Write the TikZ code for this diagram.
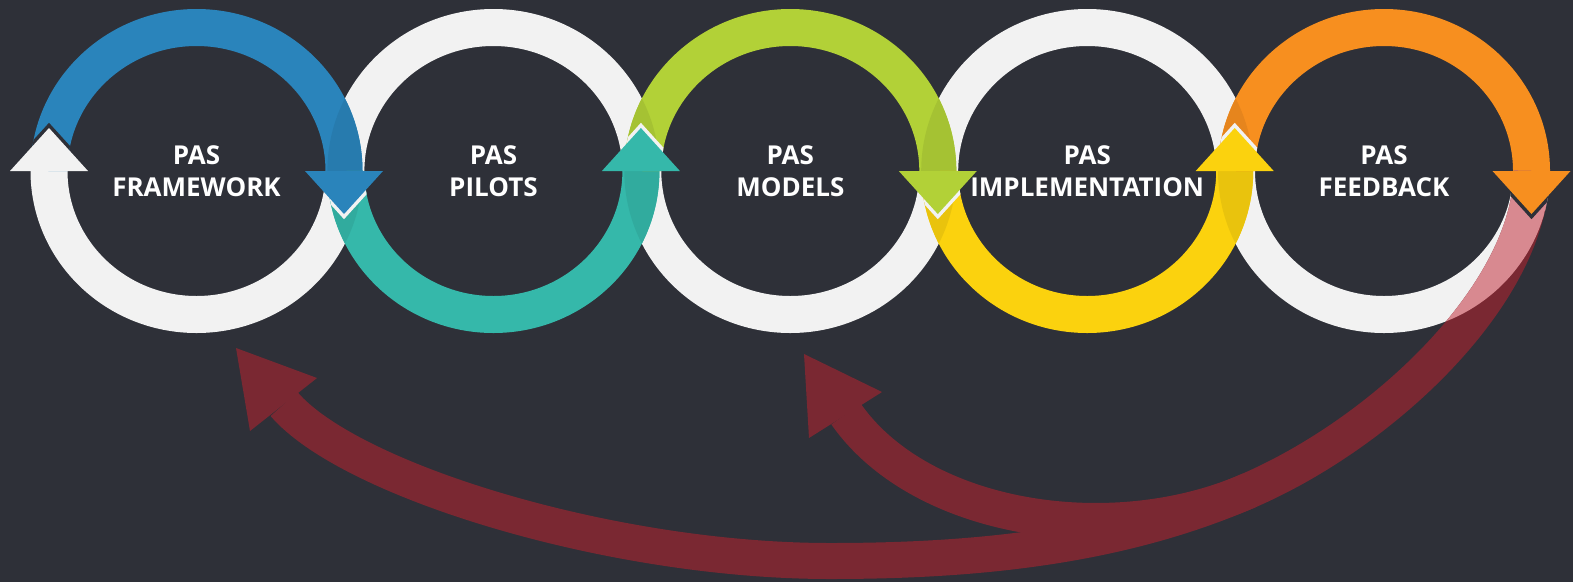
\documentclass[tikz,border=0pt]{standalone}
\usepackage{fontspec}
\setmainfont{Open Sans}
\usetikzlibrary{calc}
\usetikzlibrary{positioning}

\definecolor{bgdark}{RGB}{46,48,56}
\definecolor{ringwhite}{RGB}{242,242,242}
\definecolor{pasblue}{RGB}{42,132,187}
\definecolor{pasteal}{RGB}{53,184,170}
\definecolor{pasgreen}{RGB}{178,209,55}
\definecolor{pasyellow}{RGB}{251,210,14}
\definecolor{pasorange}{RGB}{247,143,31}
\definecolor{backred}{RGB}{122,40,50}
\definecolor{backpink}{RGB}{216,137,144}

\newcommand{\ringrx}{147.5}
\newcommand{\ringry}{143.5}
% closed band of one ring, for clipping
\newcommand{\ringarea}[1]{(#1) ++(166,0)
  arc[start angle=0, end angle=360, x radius=166, y radius=162]
  (#1) ++(129,0)
  arc[start angle=360, end angle=0, x radius=129, y radius=125]}

\begin{document}
\begin{tikzpicture}[
    x=1pt, y=-1pt,
    band/.style = {line width=37pt},
    back/.style = {line width=36pt},
    tipgap/.style = {line width=7pt, line join=miter},
    caption/.style = {
      text=white, align=center, inner sep=0pt,
      font=\fontsize{26}{32}\selectfont\bfseries,
    },
  ]

  \fill[bgdark] (0,0) rectangle (1573,582);

  \foreach \i/\x in {1/196.5, 2/493.4, 3/790.3, 4/1087.2, 5/1384}
    \coordinate (c\i) at (\x,171);

  % white halves
  \foreach \i/\a/\b in {1/0/180, 2/180/360, 3/0/180, 4/180/360, 5/0/180}
    \draw[band, ringwhite] (c\i) ++(\a:147.5 and 143.5)
      arc[start angle=\a, end angle=\b, x radius=\ringrx, y radius=\ringry];

  % coloured halves
  \foreach \i/\a/\b/\col in {1/180/360/pasblue, 2/180/0/pasteal,
      3/180/360/pasgreen, 4/180/0/pasyellow, 5/180/360/pasorange}
    \draw[band, \col] (c\i) ++(\a:147.5 and 143.5)
      arc[start angle=\a, end angle=\b, x radius=\ringrx, y radius=\ringry];

  % a bit darker where they cross the neighbour rings
  \foreach \i/\j/\k/\a/\b/\col in {1/2/2/180/360/pasblue, 2/1/3/180/0/pasteal,
      3/2/4/180/360/pasgreen, 4/3/5/180/0/pasyellow, 5/4/4/180/360/pasorange} {
    \begin{scope}
      \clip \ringarea{c\j} \ringarea{c\k};
      \draw[band, \col!93!black] (c\i) ++(\a:147.5 and 143.5)
        arc[start angle=\a, end angle=\b, x radius=\ringrx, y radius=\ringry];
    \end{scope}
  }

  % feedback arrows
  \coordinate (fb0) at (1531.5,171);
  \coordinate (fbm) at (1250,490);
  \coordinate (fbl) at (830,561);
  \coordinate (fbA) at (284,404);
  \coordinate (fbB) at (846,414);
  \coordinate (tipA) at (236,348);
  \coordinate (tipB) at (804,354);

  \draw[back, backred] (fb0) .. controls (1531.5,291) and (1387,430) .. (fbm)
    .. controls (1122,546) and (980,561) .. (fbl)
    .. controls (610,561) and (349,480) .. (fbA);
  \draw[back, backred] (fbm) .. controls (1112.75,550.5) and (920.75,520.9) .. (fbB);
  \begin{scope}
    \clip \ringarea{c5};
    \draw[back, backpink] (fb0) .. controls (1531.5,291) and (1387,430) .. (fbm);
  \end{scope}
  \fill[backred] (tipA) -- (317,378) -- (250,431) -- cycle;
  \fill[backred] (tipB) -- (882,392) -- (809,438) -- cycle;

  % arrow heads on the rings, with a gap cut into the next band
  \foreach \x/\t/\col/\gap/\r in {49/128/ringwhite/bgdark/1,
      344/214/pasblue/ringwhite/2, 640.9/128/pasteal/ringwhite/3,
      937.8/214/pasgreen/ringwhite/4, 1234.7/128/pasyellow/ringwhite/5,
      1531.5/214/pasorange/bgdark/5} {
    \begin{scope}
      \clip \ringarea{c\r};
      \draw[tipgap, \gap] (\x-39,171) -- (\x,\t) -- (\x+39,171);
    \end{scope}
    \fill[\col] (\x-39,171) -- (\x,\t) -- (\x+39,171) -- cycle;
  }

  % labels
  \node[caption] (framework) at (c1) {PAS\\FRAMEWORK};
  \node[caption] (pilots) at (c2) {PAS\\PILOTS};
  \node[caption] (models) at (c3) {PAS\\MODELS};
  \node[caption] (implementation) at (c4) {PAS\\IMPLEMENTATION};
  \node[caption] (feedback) at (c5) {PAS\\FEEDBACK};
\end{tikzpicture}
\end{document}
